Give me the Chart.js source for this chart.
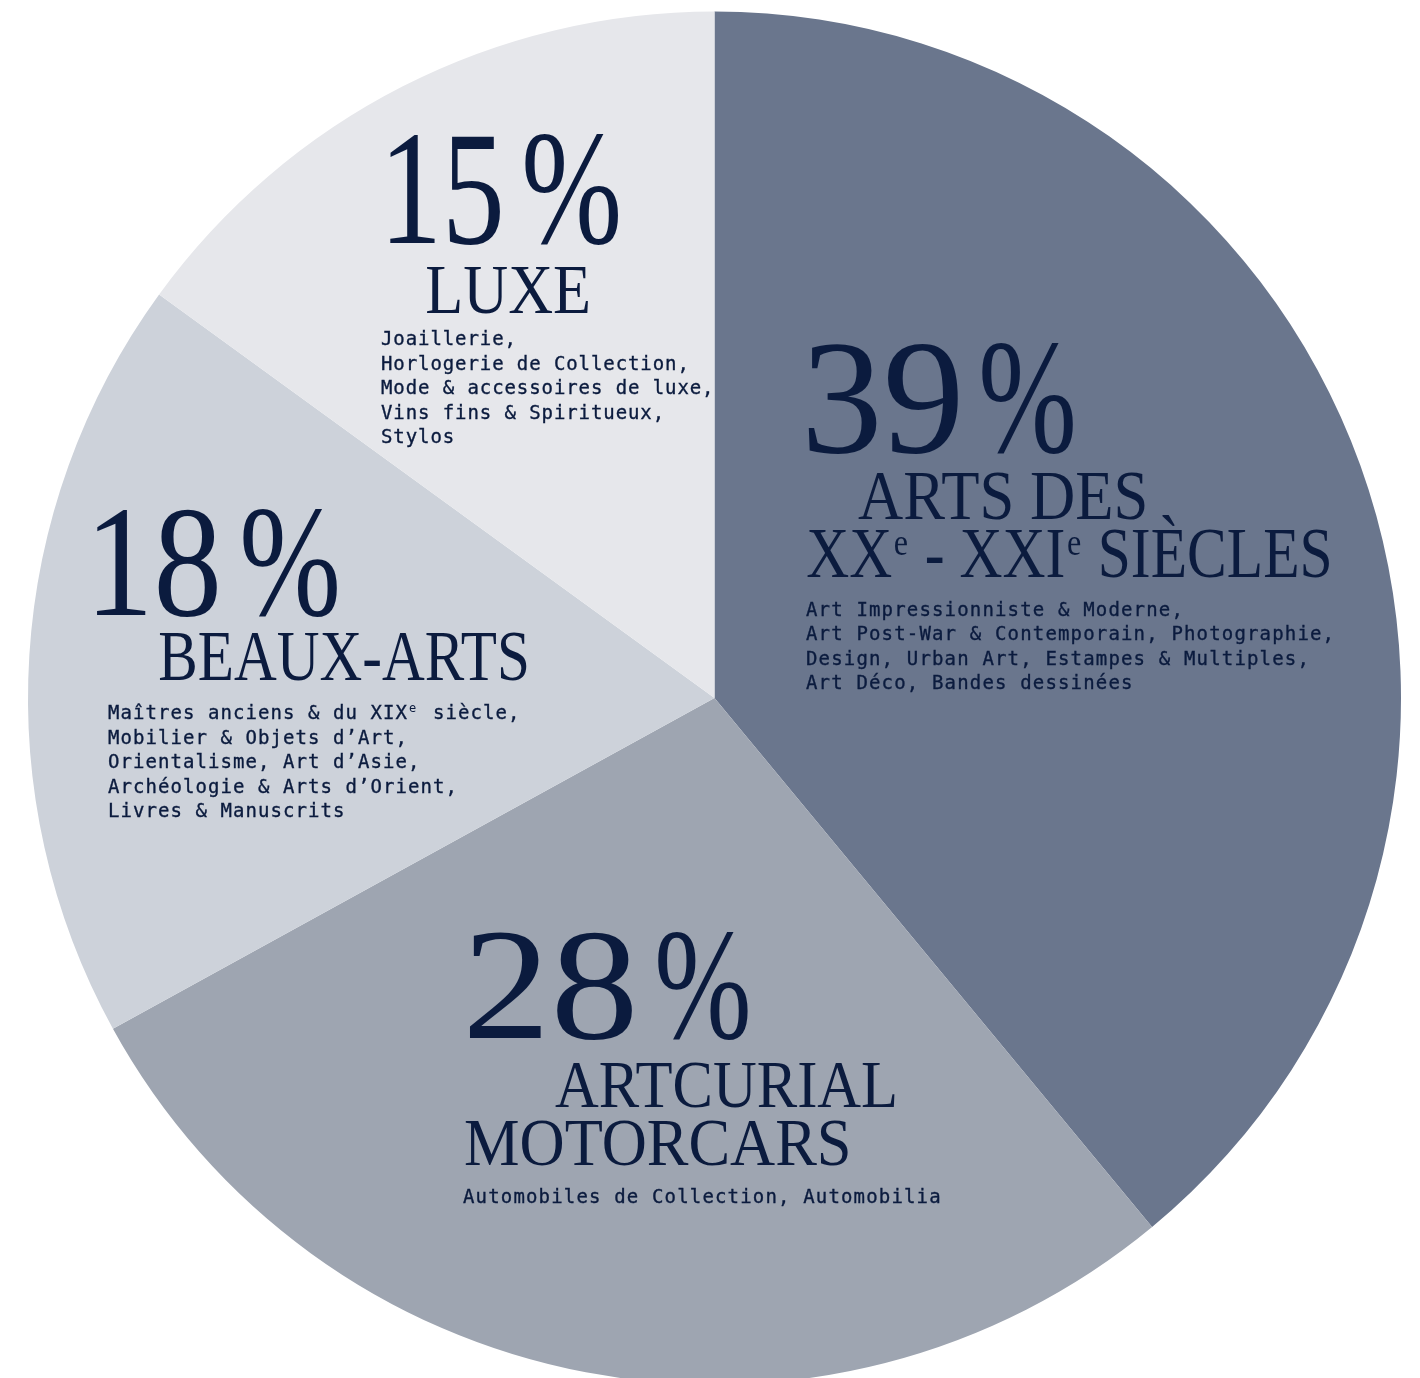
<!DOCTYPE html>
<html><head><meta charset="utf-8">
<script src="https://cdn.jsdelivr.net/npm/chart.js@4"></script>
<style>html,body{margin:0;padding:0;background:#fff;overflow:hidden;width:1420px;height:1378px}canvas{display:block}</style>
</head><body><canvas id="c" width="1420" height="1396" style="width:1420px;height:1396px"></canvas>
<script>
// ---- data ----
const shares = [39, 28, 18, 15];
const titles = [
  ['ARTS DES', 'XX^e - XXI^e SIÈCLES'],
  ['ARTCURIAL', 'MOTORCARS'],
  ['BEAUX-ARTS'],
  ['LUXE']
];
const descriptions = [
  ['Art Impressionniste & Moderne,', 'Art Post-War & Contemporain, Photographie,', 'Design, Urban Art, Estampes & Multiples,', 'Art Déco, Bandes dessinées'],
  ['Automobiles de Collection, Automobilia'],
  ['Maîtres anciens & du XIX^e siècle,', 'Mobilier & Objets d’Art,', 'Orientalisme, Art d’Asie,', 'Archéologie & Arts d’Orient,', 'Livres & Manuscrits'],
  ['Joaillerie,', 'Horlogerie de Collection,', 'Mode & accessoires de luxe,', 'Vins fins & Spiritueux,', 'Stylos']
];

// ---- styles / layout ----
const sliceColors = ['#6a768d', '#9ea5b1', '#cdd2da', '#e6e7eb'];
const TEXT = '#0b1b3e';
const SERIF = '"Liberation Serif", "Times New Roman", serif';
const MONO = '"DejaVu Sans Mono", "Liberation Mono", monospace';
const layout = [
  {num: {x: 808, y: 452, h: 110, w: 150, px: 982, pw: 91},
   titles: [{x: 858, y: 519, cap: 46, w: 287}, {x: 807, y: 577, cap: 47, w: 516}],
   desc: {x: 806, y: 616, lh: 24.4, adv: 12.6}},
  {num: {x: 470, y: 1038, h: 108, w: 162, px: 658, pw: 90},
   titles: [{x: 555, y: 1107, cap: 45, w: 340}, {x: 465, y: 1165, cap: 45, w: 383}],
   desc: {x: 463, y: 1203, lh: 24.5, adv: 12.6}},
  {num: {x: 97, y: 615, h: 108, w: 120, px: 243, pw: 94},
   titles: [{x: 160, y: 680, cap: 47, w: 367}],
   desc: {x: 108, y: 719, lh: 24.5, adv: 12.5}},
  {num: {x: 390, y: 243, h: 110, w: 110, px: 525, pw: 93},
   titles: [{x: 427, y: 313, cap: 46, w: 161}],
   desc: {x: 381, y: 345, lh: 24.5, adv: 12.35}}
];

function fitText(ctx, text, font, x, y, w) {
  ctx.font = font;
  const m = ctx.measureText(text);
  const ink = m.actualBoundingBoxLeft + m.actualBoundingBoxRight;
  const sx = w / ink;
  ctx.save();
  ctx.translate(x + m.actualBoundingBoxLeft * sx, y);
  ctx.scale(sx, 1);
  ctx.fillText(text, 0, 0);
  ctx.restore();
}

function drawSerifLine(ctx, text, L) {
  const fs = L.cap / 0.662;
  const supFs = fs * 0.54;
  const parts = text.split(/\^(.)/);
  const fonts = parts.map((p, i) => (i % 2 ? supFs : fs) + 'px ' + SERIF);
  const ms = parts.map((p, i) => { ctx.font = fonts[i]; return ctx.measureText(p); });
  let total = ms[0].actualBoundingBoxLeft;
  for (let i = 0; i < ms.length - 1; i++) total += ms[i].width;
  total += ms[ms.length - 1].actualBoundingBoxRight;
  const sx = L.w / total;
  ctx.save();
  ctx.translate(L.x + ms[0].actualBoundingBoxLeft * sx, L.y);
  ctx.scale(sx, 1);
  let cx = 0;
  parts.forEach((p, i) => {
    ctx.font = fonts[i];
    ctx.fillText(p, cx + (i % 2 ? 2 : 0), i % 2 ? -fs * 0.31 : 0);
    cx += ms[i].width + (i % 2 ? 4 : 0);
  });
  ctx.restore();
}

function drawMono(ctx, text, x, y, adv) {
  const parts = text.split(/\^(.)/);
  let cx = x;
  ctx.strokeStyle = TEXT;
  ctx.lineWidth = 0.35;
  parts.forEach((p, i) => {
    if (i % 2) {
      ctx.font = '12px ' + MONO;
      ctx.fillText(p, cx + 1, y - 7);
      cx += adv;
    } else {
      ctx.font = '19px ' + MONO;
      for (const ch of p) {
        ctx.fillText(ch, cx, y);
        ctx.strokeText(ch, cx, y);
        cx += adv;
      }
    }
  });
}

const labelPlugin = {
  id: 'labels',
  afterDatasetsDraw(chart) {
    const ctx = chart.ctx;
    const meta = chart.getDatasetMeta(0);
    ctx.save();
    ctx.fillStyle = TEXT;
    ctx.textBaseline = 'alphabetic';
    ctx.textAlign = 'left';
    meta.data.forEach((arc, i) => {
      const L = layout[i];
      const N = L.num;
      const fs = N.h / 0.676;
      const font = fs + 'px ' + SERIF;
      fitText(ctx, String(shares[i]), font, N.x, N.y, N.w);
      fitText(ctx, '%', font, N.px, N.y, N.pw);
      titles[i].forEach((t, k) => drawSerifLine(ctx, t, L.titles[k]));
      descriptions[i].forEach((d, k) => drawMono(ctx, d, L.desc.x, L.desc.y + k * L.desc.lh, L.desc.adv));
    });
    ctx.restore();
  }
};

new Chart(document.getElementById('c'), {
  type: 'pie',
  data: {
    labels: titles.map(t => t.join(' ').replace(/\^/g, '')),
    datasets: [{
      data: shares,
      backgroundColor: sliceColors,
      borderWidth: 0,
      hoverOffset: 0
    }]
  },
  options: {
    responsive: false,
    animation: false,
    events: [],
    layout: {padding: {left: 28, right: 19, top: 11.5, bottom: 11.5}},
    plugins: {legend: {display: false}, tooltip: {enabled: false}}
  },
  plugins: [labelPlugin]
});
</script>
</body></html>
